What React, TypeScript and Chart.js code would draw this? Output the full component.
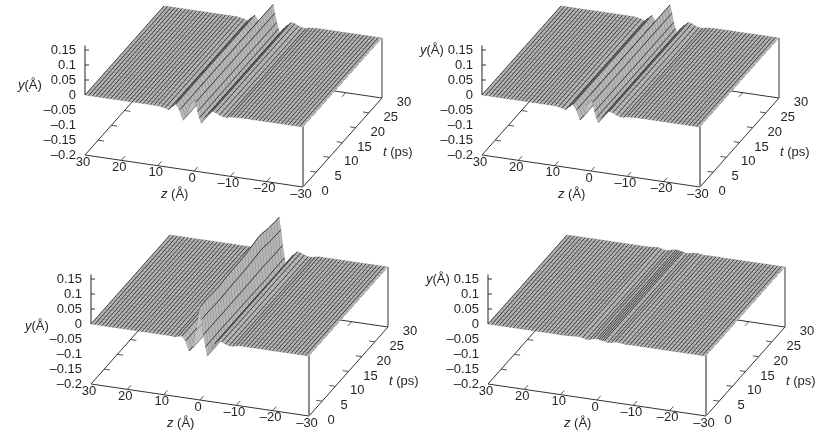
import React, { useEffect, useRef } from "react";
import { Chart, registerables } from "chart.js";

Chart.register(...registerables);

const zValues = [30,29,28,27,26,25,24,23,22,21,20,19,18,17,16,15,14,13,12,11,10,9,8,7,6,5,4,3,2,1,0,-0.5,-1,-1.5,-2,-3,-4,-5,-6,-7,-8,-9,-10,-11,-12,-13,-14,-15,-16,-17,-18,-19,-20,-21,-22,-23,-24,-25,-26,-27,-28,-29,-30];
const tValues = [0,1,2,3,4,5,6,7,8,9,10,11,12,13,14,15,16,17,18,19,20,21,22,23,24,25,26,27,28,29,30];

const profileA = [0,0,0,0,0,0,0,0,0,0,0,0,0,0,0,0,0,0,0,0,0,-0.002,-0.004,-0.008,0.004,0.014,-0.004,-0.036,-0.02,0.02,0.058,0.03,0,-0.02,-0.037,-0.016,-0.003,0.007,0.005,-0.001,-0.005,-0.006,-0.002,-0.001,0,0,0,0,0,0,0,0,0,0,0,0,0,0,0,0,0,0,0];
const profileB = [0,0,0,0,0,0,0,0,0,0,0,0,0,0,0,0,0,0,0,0,0,-0.002,-0.004,-0.008,0.003,0.013,-0.004,-0.035,-0.02,0.02,0.057,0.03,0,-0.02,-0.036,-0.016,-0.003,0.007,0.005,-0.001,-0.005,-0.005,-0.002,-0.001,0,0,0,0,0,0,0,0,0,0,0,0,0,0,0,0,0,0,0];
const profileC = [0,0,0,0,0,0,0,0,0,0,0,0,0,0,0,0,0,0,0,0,0,0,0,-0.002,0.002,0.004,-0.01,-0.042,-0.03,0.03,0.11,0.07,0.02,-0.02,-0.05,-0.025,-0.005,0.006,0.004,-0.001,-0.005,-0.005,-0.002,0,0,0,0,0,0,0,0,0,0,0,0,0,0,0,0,0,0,0,0];
const profileD = [0,0,0,0,0,0,0,0,0,0,0,0,0,0,0,0,0,0,0,0,0,0,0,0.001,0.002,0.003,0,-0.003,-0.002,0.002,0.004,0.003,0.002,0.001,0,-0.003,-0.001,0.002,0.002,0.001,-0.001,0,0,0,0,0,0,0,0,0,0,0,0,0,0,0,0,0,0,0,0,0,0];

const ampA = [1,1,1,1,1,1,1,1,1.01,1.01,1,1,1,1,0.99,0.99,1,1,1,1,1,1,1,1,1,1,1,1,1,1,1];
const ampB = [1,1,1,1,1,1,1,1,1,1,1,1,1,1,1,1,1,1,1,1,1,1,1,1,1,1,1,1,1,1,1];
const ampC = [1,1,1.01,1.01,1,0.99,0.98,0.98,0.98,1,1.01,1.01,1.02,1.02,1.02,1.02,1.03,1.04,1.05,1.07,1.08,1.1,1.12,1.12,1.1,1.07,1.05,1.04,1.03,1.02,1.02];
const ampD = [1,1,1,1,1,1,1,1,1,1,1,1,1,1,1,1,1,1,1,1,1,1,1,1,1,1,1,1,1,1,1];

const yTicks = [0.15,0.1,0.05,0,-0.05,-0.1,-0.15,-0.2];
const yLabels = ["0.15","0.1","0.05","0","\u20130.05","\u20130.1","\u20130.15","\u20130.2"];
const zTicks = [30,20,10,0,-10,-20,-30];
const zLabels = ["30","20","10","0","\u201310","\u201320","\u201330"];
const tTicks = [0,5,10,15,20,25,30];
const tLabels = ["0","5","10","15","20","25","30"];

const FONT = '"Liberation Sans", Arial, sans-serif';
const TEXT = "#262626";

type Pt = { x: number; y: number };
function project(z: number, v: number, t: number): Pt {
  return {
    x: ((30 - z) / 60) * 218 + (t / 30) * 79,
    y: ((30 - z) / 60) * 32 - (t / 30) * 89 - (v + 0.2) * 300,
  };
}

const depth = (p: Pt) => p.x + 0.888 * p.y;

function buildDatasets(profile: number[], amp: number[]) {
  const ds: any[] = [];
  const seg = (pts: Pt[], color: string, width: number, order: number) =>
    ds.push({ data: pts, borderColor: color, borderWidth: width, order, pointRadius: 0, tension: 0, fill: false });

  // floor and frame, behind the surface
  const BACK = 100000;
  seg([project(30, -0.2, 0), project(-30, -0.2, 0), project(-30, -0.2, 30), project(30, -0.2, 30), project(30, -0.2, 0)], "#333333", 1, BACK);
  seg([project(-30, -0.2, 30), project(-30, 0, 30)], "#808080", 1.6, BACK);
  zTicks.slice(1, -1).forEach((z) => {
    seg([project(z, -0.2, 0), project(z, -0.2, 1.4)], "#555555", 1, BACK);
    seg([project(z, -0.2, 30), project(z, -0.2, 28.6)], "#555555", 1, BACK);
  });
  tTicks.slice(1, -1).forEach((t) => {
    seg([project(-30, -0.2, t), project(-28.4, -0.2, t)], "#555555", 1, BACK);
    seg([project(30, -0.2, t), project(28.4, -0.2, t)], "#555555", 1, BACK);
  });

  // surface strips, far (large z) drawn first
  const n = zValues.length;
  for (let i = 0; i < n - 1; i++) {
    const a: Pt[] = tValues.map((t, k) => project(zValues[i], profile[i] * amp[k], t));
    const b: Pt[] = tValues.map((t, k) => project(zValues[i + 1], profile[i + 1] * amp[k], t));
    const folded = depth(b[0]) < depth(a[0]);
    const order = (n - i) * 4 + 10;
    ds.push({
      data: [...a, ...b.slice().reverse()],
      borderColor: "rgba(0,0,0,0)",
      borderWidth: 0,
      backgroundColor: folded ? "#d0d0d0" : "#b8b8b8",
      fill: "shape",
      order: order + 1,
      pointRadius: 0,
      tension: 0,
    });
    const zig: Pt[] = [];
    a.forEach((p, k) => {
      if (k % 2 === 0) zig.push(p, b[k]);
      else zig.push(b[k], p);
    });
    seg(zig, folded ? "rgba(120,120,120,0.5)" : "rgba(50,50,50,0.3)", 0.7, order);
    seg(a, folded ? "#8c8c8c" : "#303030", 0.9, order);
  }

  // frame in front
  seg([project(-30, -0.2, 0), project(-30, 0, 0)], "#808080", 1.8, -1);
  seg([project(30, 0, 0), project(30, 0.165, 0)], "#222222", 1, -1);
  [0.15, 0.1, 0.05].forEach((v) => {
    const p = project(30, v, 0);
    seg([p, { x: p.x + 4, y: p.y }], "#333333", 1, -1);
  });
  return ds;
}

type PanelCfg = {
  left: number; top: number; w: number; h: number;
  ox: number; oy: number;
  profile: number[]; amp: number[];
  yTitle: [number, number];
};

const panels: PanelCfg[] = [
  { left: 0, top: 0, w: 430, h: 215, ox: 85, oy: 155, profile: profileA, amp: ampA, yTitle: [-67, -70] },
  { left: 415, top: 0, w: 415, h: 215, ox: 482, oy: 155, profile: profileB, amp: ampB, yTitle: [-62, -105] },
  { left: 0, top: 215, w: 430, h: 228, ox: 91, oy: 384, profile: profileC, amp: ampC, yTitle: [-66, -58] },
  { left: 415, top: 215, w: 415, h: 228, ox: 488, oy: 384, profile: profileD, amp: ampD, yTitle: [-62, -105] },
];

function rich(ctx: CanvasRenderingContext2D, x: number, y: number, italic: string, rest: string) {
  ctx.textAlign = "left";
  ctx.textBaseline = "middle";
  ctx.font = `italic 13px ${FONT}`;
  ctx.fillText(italic, x, y);
  const w = ctx.measureText(italic).width;
  ctx.font = `13px ${FONT}`;
  ctx.fillText(rest, x + w, y);
}

const textPlugin = (cfg: PanelCfg) => ({
  id: "axisText",
  afterDraw(chart: any) {
    const { ctx, scales } = chart;
    const X = (v: number) => scales.x.getPixelForValue(v);
    const Y = (v: number) => scales.y.getPixelForValue(v);
    ctx.save();
    ctx.fillStyle = TEXT;
    ctx.font = `13px ${FONT}`;
    ctx.textBaseline = "middle";
    ctx.textAlign = "right";
    yTicks.forEach((v, i) => {
      const p = project(30, v, 0);
      ctx.fillText(yLabels[i], X(p.x - 9), Y(p.y));
    });
    ctx.textAlign = "center";
    zTicks.forEach((z, i) => {
      const p = project(z, -0.2, 0);
      ctx.fillText(zLabels[i], X(p.x - 2), Y(p.y + 7));
    });
    tTicks.forEach((t, i) => {
      const p = project(-30, -0.2, t);
      ctx.fillText(tLabels[i], X(p.x + 22), Y(p.y + 4.5));
    });
    rich(ctx, X(76), Y(39), "z", " (\u00c5)");
    rich(ctx, X(298), Y(-3), "t", " (ps)");
    rich(ctx, X(cfg.yTitle[0]), Y(cfg.yTitle[1]), "y", "(\u00c5)");
    ctx.restore();
  },
});

function Panel({ cfg }: { cfg: PanelCfg }) {
  const ref = useRef<HTMLCanvasElement>(null);
  useEffect(() => {
    const chart = new Chart(ref.current!, {
      type: "line",
      data: { datasets: buildDatasets(cfg.profile, cfg.amp) },
      options: {
        animation: false,
        responsive: false,
        events: [],
        layout: { padding: 0 },
        plugins: { legend: { display: false }, tooltip: { enabled: false } },
        scales: {
          x: { type: "linear", display: false, min: cfg.left - cfg.ox, max: cfg.left - cfg.ox + cfg.w },
          y: { type: "linear", display: false, reverse: true, min: cfg.top - cfg.oy, max: cfg.top - cfg.oy + cfg.h },
        },
      },
      plugins: [textPlugin(cfg)],
    } as any);
    return () => chart.destroy();
  }, [cfg]);
  return (
    <canvas
      ref={ref}
      width={cfg.w}
      height={cfg.h}
      style={{ position: "absolute", left: cfg.left, top: cfg.top, width: cfg.w, height: cfg.h, filter: "blur(0.35px)" }}
    />
  );
}

export default function App() {
  return (
    <div style={{ position: "fixed", left: 0, top: 0, width: 830, height: 443, overflow: "hidden", background: "#fff" }}>
      {panels.map((p, i) => (
        <Panel key={i} cfg={p} />
      ))}
    </div>
  );
}
